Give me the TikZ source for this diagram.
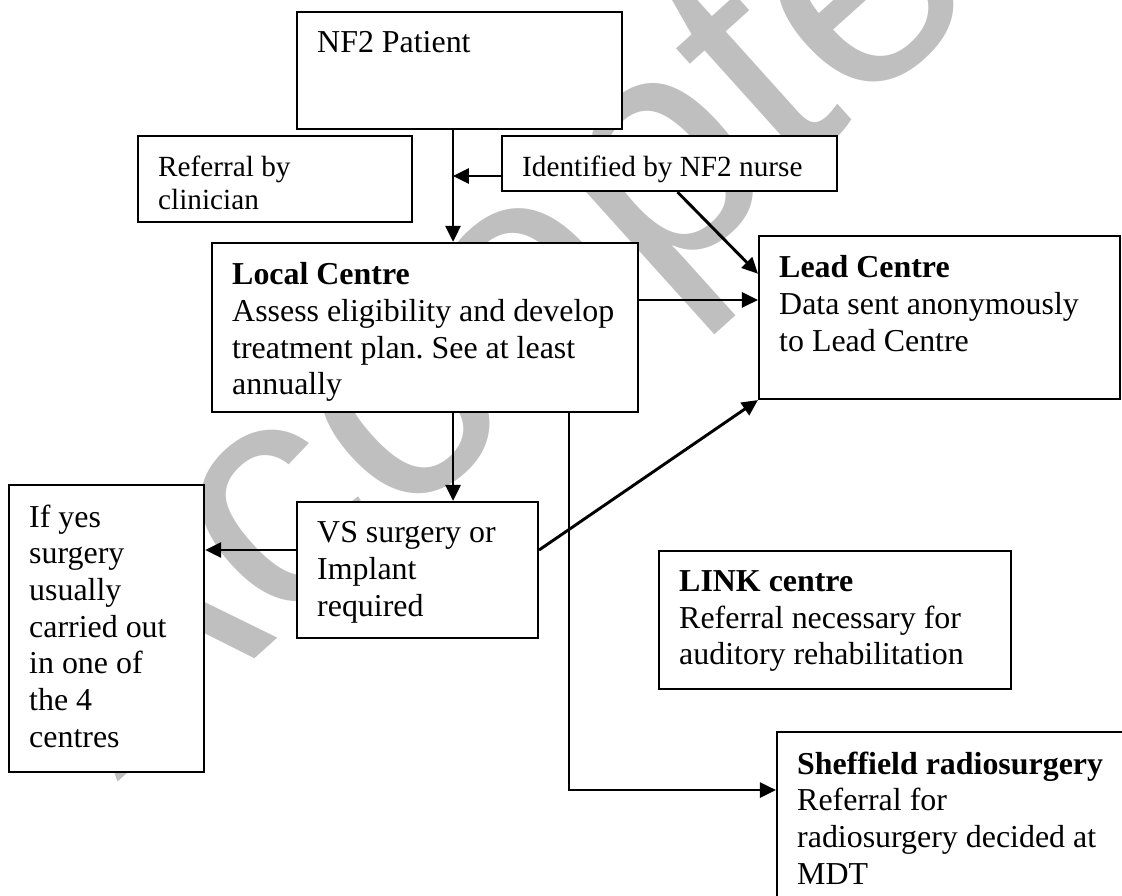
\documentclass[tikz,border=0pt]{standalone}
\usepackage{fontspec}
\setmainfont{Liberation Serif}
\newfontfamily\stampfont{Liberation Sans}
\usetikzlibrary{arrows.meta,fit}
\frenchspacing

\begin{document}
\begin{tikzpicture}[x=0.376pt, y=-0.376pt,
    box/.style={draw, fill=white, line width=0.8pt, inner sep=0pt},
    boxtext/.style={anchor=north west, inner xsep=7.8pt, inner ysep=7.6pt, align=left,
        font=\fontsize{12}{13.8}\selectfont},
    smalltext/.style={boxtext, font=\fontsize{11}{12.65}\selectfont},
    arr/.style={-{Triangle[length=6pt, width=5.6pt]}, line width=1.1pt}]
    \useasboundingbox (0,0) rectangle (1122,896);
    \clip (0,0) rectangle (1122,896);

    % watermark behind everything
    \node[rotate=42, anchor=base, text=black!25, font=\stampfont\fontsize{122}{122}\selectfont] (stamp) at (620,330) {Accepted};

    % boxes
    \node[box, fit={(297,12) (622,129)}] (patient) {};
    \node[box, fit={(138,136) (412,222)}] (clinician) {};
    \node[box, fit={(502,136) (837,191)}] (nurse) {};
    \node[box, fit={(212,243) (638,412)}] (local) {};
    \node[box, fit={(759,236) (1120,399)}] (lead) {};
    \node[box, fit={(297,502) (538,638)}] (vs) {};
    \node[box, fit={(9,485) (204,772)}] (ifyes) {};
    \node[box, fit={(659,551) (1011,689)}] (link) {};
    \node[box, fit={(777,732) (1140,920)}] (sheff) {};

    % texts
    \node[boxtext] (patienttxt) at (patient.north west) {NF2 Patient};
    \node[smalltext] (cliniciantxt) at (clinician.north west) {Referral by\\clinician};
    \node[smalltext] (nursetxt) at (nurse.north west) {Identified by NF2 nurse};
    \node[boxtext] (localtxt) at (local.north west) {\textbf{Local Centre}\\Assess eligibility and develop\\treatment plan. See at least\\annually};
    \node[boxtext] (leadtxt) at (lead.north west) {\textbf{Lead Centre}\\Data sent anonymously\\to Lead Centre};
    \node[boxtext] (vstxt) at (vs.north west) {VS surgery or\\Implant\\required};
    \node[boxtext] (ifyestxt) at (ifyes.north west) {If yes\\surgery\\usually\\carried out\\in one of\\the 4\\centres};
    \node[boxtext] (linktxt) at (link.north west) {\textbf{LINK centre}\\Referral necessary for\\auditory rehabilitation};
    \node[boxtext] (shefftxt) at (sheff.north west) {\textbf{Sheffield radiosurgery}\\Referral for\\radiosurgery decided at\\MDT};

    % junction points
    \coordinate (jn) at (453,176);
    \coordinate (jl) at (700,300);
    \coordinate (jv) at (420,550);
    \coordinate (js) at (569,790);

    % connectors
    \draw[arr] (patient.south -| jn) -- (local.north -| jn);
    \draw[arr] (nurse.west |- jn) -- (jn);
    \draw[arr] ([xshift=3pt]nurse.south) -- ([yshift=-14.6pt]lead.north west);
    \draw[arr] (local.east |- jl) -- (lead.west |- jl);
    \draw[arr] (local.south -| jn) -- (vs.north -| jn);
    \draw[arr] (vs.west |- jv) -- (ifyes.east |- jv);
    \draw[arr] (vs.east |- jv) -- (lead.south west);
    \draw[arr] (local.south -| js) |- (sheff.west |- js);
\end{tikzpicture}
\end{document}
